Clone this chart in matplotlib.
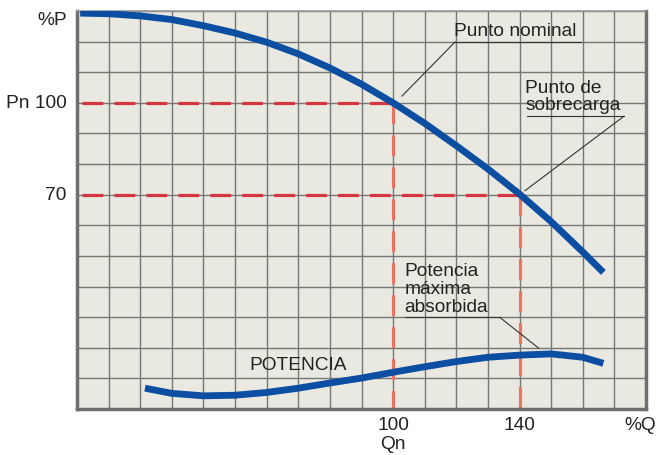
import matplotlib.pyplot as plt

plt.rcParams['font.family'] = ['Liberation Sans', 'DejaVu Sans']
plt.rcParams['lines.scale_dashes'] = False

# curva de presion (%P) frente a caudal (%Q)
q_head = [1, 10, 20, 30, 40, 50, 60, 70, 80, 90, 100, 110, 120, 130, 140, 150, 160, 166.5]
p_head = [129.3, 129.1, 128.4, 127.2, 125.2, 122.8, 119.8, 116.0, 111.4, 106.1, 100.0,
          93.3, 86.0, 78.4, 70.2, 61.2, 51.3, 44.6]

# curva de potencia absorbida
q_pow = [21.5, 30, 40, 50, 60, 70, 80, 90, 100, 110, 120, 130, 140, 150, 160, 166.5]
p_pow = [6.8, 5.1, 4.3, 4.5, 5.4, 6.8, 8.5, 10.1, 12.0, 13.8, 15.5, 16.9, 17.6, 18.0, 16.9, 14.9]

# puntos de funcionamiento
q_nom, p_nom = 100, 100
q_sob, p_sob = 140, 70

blue = '#0b4ea2'
txt = '#222222'
fs = 13.8

fig = plt.figure(figsize=(6.57, 4.56), dpi=100)
ax = fig.add_axes([77 / 657, 1 - 410 / 456, 569 / 657, 398 / 456])
ax.set_facecolor('#e9e9e1')
ax.set_xlim(0, 180)
ax.set_ylim(0, 130)
ax.set_xticks(range(0, 181, 10))
ax.set_yticks(range(0, 131, 10))
ax.tick_params(length=0, labelbottom=False, labelleft=False)
ax.grid(color='#767676', lw=1.0)
ax.set_axisbelow(True)
for s in ax.spines.values():
    s.set_color('#6f6f6f')
    s.set_linewidth(2.5)
ax.spines['top'].set_linewidth(1.2)
ax.spines['top'].set_color('#9a9a9a')

# lineas discontinuas
ax.plot([1.5, q_nom], [p_nom, p_nom], color='#d6363f', lw=2.3, dashes=(15, 8), zorder=2)
ax.plot([1.5, q_sob], [p_sob, p_sob], color='#d6363f', lw=2.3, dashes=(15, 8), zorder=2)
ax.plot([q_nom, q_nom], [p_nom, 0], color='#ea7362', lw=2.3, dashes=(15, 8), zorder=2)
ax.plot([q_sob, q_sob], [p_sob, 0], color='#ea7362', lw=2.3, dashes=(15, 8), zorder=2)

# curvas
ax.plot(q_head, p_head, color=blue, lw=4.9, solid_capstyle='butt', solid_joinstyle='round', zorder=3)
ax.plot(q_pow, p_pow, color=blue, lw=4.9, solid_capstyle='butt', solid_joinstyle='round', zorder=3)

# anotaciones
ax.text(119.4, 120.9, 'Punto nominal', fontsize=fs, color=txt, va='bottom', ha='left')
ax.plot([119.6, 159.4], [119.9, 119.9], color='#333333', lw=0.8)
ax.plot([119.6, 102.8], [119.9, 102.2], color='#333333', lw=0.8)

ax.text(141.8, 96.6, 'Punto de\nsobrecarga', fontsize=fs, color=txt, va='bottom', ha='left',
        linespacing=1.05)
ax.plot([142.3, 173.0], [95.6, 95.6], color='#333333', lw=0.8)
ax.plot([173.0, 141.7], [95.6, 71.3], color='#333333', lw=0.8)

ax.text(103.6, 30.8, 'Potencia\nmáxima\nabsorbida', fontsize=fs, color=txt, va='bottom',
        ha='left', linespacing=1.07)
ax.plot([103.8, 133.8], [29.9, 29.9], color='#333333', lw=0.8)
ax.plot([133.8, 146.0], [29.9, 19.9], color='#333333', lw=0.8)

ax.text(54.5, 14.4, 'POTENCIA', fontsize=fs, color=txt, va='center', ha='left')

# etiquetas de ejes
ax.text(-3.3, 127.3, '%P', fontsize=fs, color=txt, va='center', ha='right', clip_on=False)
ax.text(-3.3, 100, 'Pn 100', fontsize=fs, color=txt, va='center', ha='right', clip_on=False)
ax.text(-3.3, 70, '70', fontsize=fs, color=txt, va='center', ha='right', clip_on=False)
ax.text(100, -4.9, '100', fontsize=fs, color=txt, va='center', ha='center', clip_on=False)
ax.text(100, -11.3, 'Qn', fontsize=fs, color=txt, va='center', ha='center', clip_on=False)
ax.text(140, -4.9, '140', fontsize=fs, color=txt, va='center', ha='center', clip_on=False)
ax.text(178.1, -4.9, '%Q', fontsize=fs, color=txt, va='center', ha='center', clip_on=False)

fig.savefig('out.png', dpi=100)
